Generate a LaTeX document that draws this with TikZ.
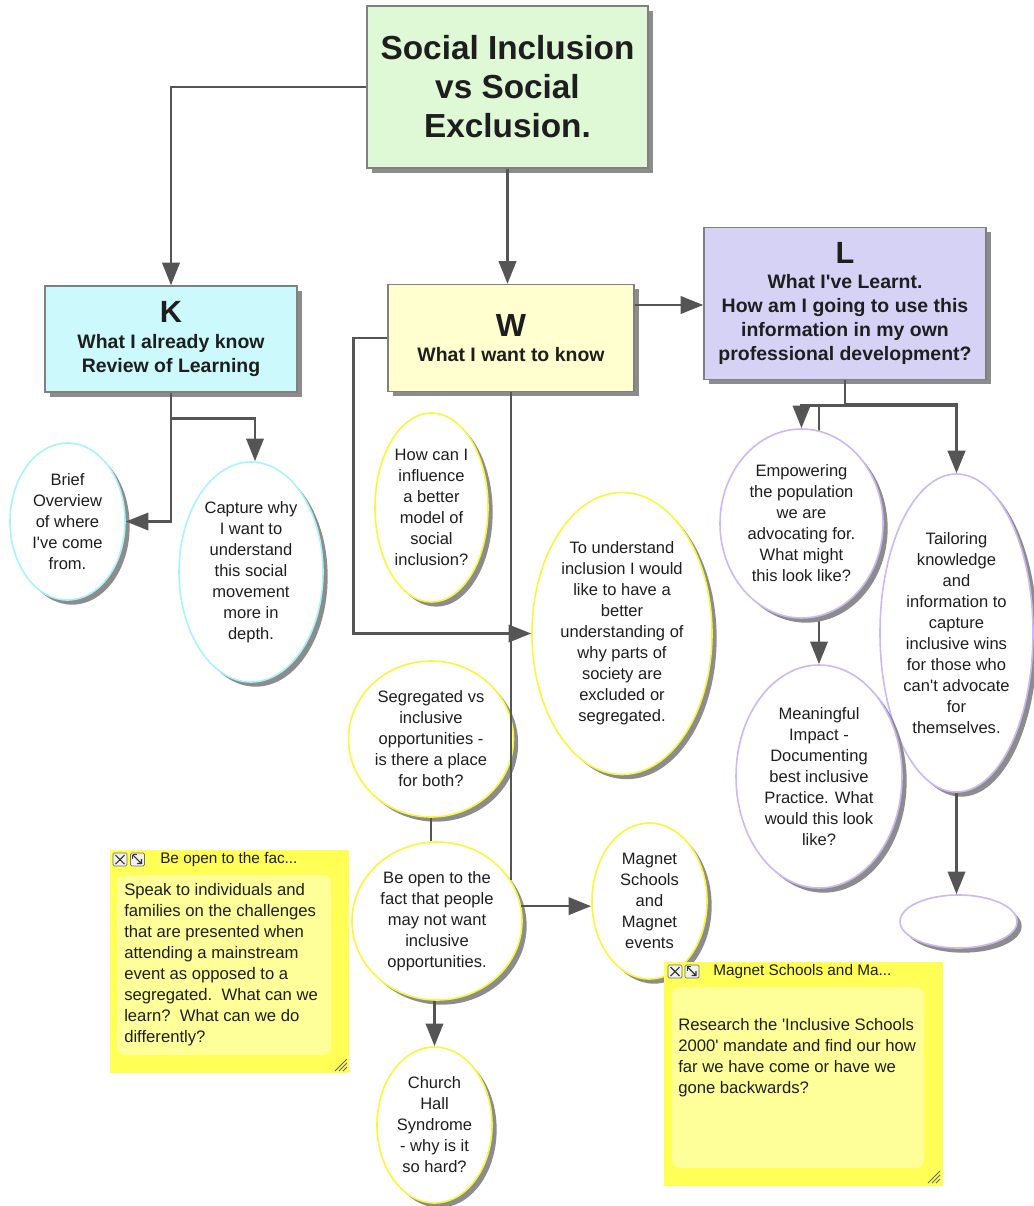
\documentclass[tikz,border=0pt]{standalone}
\usepackage{fontspec}
\setmainfont{Liberation Sans}
\usetikzlibrary{shapes.geometric,shadows,arrows.meta}

\newcommand\aposq{\textquotesingle}

\definecolor{linegray}{HTML}{555555}
\definecolor{boxedge}{HTML}{808080}
\definecolor{inkcol}{HTML}{1E1E1E}
\definecolor{greenfill}{HTML}{DFF8D6}
\definecolor{cyanfill}{HTML}{CCF9FC}
\definecolor{yellowfill}{HTML}{FFFFCF}
\definecolor{lilacfill}{HTML}{D6D2F6}
\definecolor{cyanedge}{HTML}{A8F4FC}
\definecolor{yellowedge}{HTML}{FAF63C}
\definecolor{lilacedge}{HTML}{CCB8F8}
\definecolor{noteouter}{HTML}{FFFF55}
\definecolor{noteinner}{HTML}{FFFF99}
\definecolor{shadowgray}{HTML}{8C8C8C}
\definecolor{iconedge}{HTML}{6E6E6E}
\definecolor{iconfill}{HTML}{F2F2EC}

\tikzset{
  softshadow/.style={drop shadow={shadow xshift=3.5pt, shadow yshift=-3.5pt, fill=shadowgray, opacity=1}},
  topic/.style={rectangle, draw=boxedge, line width=1pt, softshadow, align=center,
    text=inkcol, inner sep=0pt, font=\bfseries\fontsize{14.6pt}{18pt}\selectfont},
  bubble/.style={ellipse, draw=#1, line width=1.2pt, fill=white, softshadow, align=center,
    text=inkcol, inner sep=0pt, font=\fontsize{12.4pt}{15.75pt}\selectfont},
  conn/.style={draw=linegray, line width=2pt},
  arr/.style={conn, -{Triangle[length=17pt,width=13pt]}},
  noteback/.style={rectangle, fill=noteouter, inner sep=0pt},
  notepad/.style={rectangle, rounded corners=6pt, fill=noteinner, inner sep=0pt},
  notetext/.style={align=left, text=inkcol, inner sep=0pt, font=\fontsize{12.5pt}{15.75pt}\selectfont},
  notetitle/.style={text=inkcol, inner sep=0pt, font=\fontsize{11.5pt}{14pt}\selectfont},
  closeicon/.pic={
    \draw[iconedge, fill=iconfill, line width=0.6pt, rounded corners=1pt] (-7,-6.5) rectangle (7,6.5);
    \draw[black!80, line width=0.8pt] (-4.5,-4.5) -- (4.5,4.5) (-4.5,4.5) -- (4.5,-4.5);
  },
  sizeicon/.pic={
    \draw[iconedge, fill=iconfill, line width=0.6pt, rounded corners=1pt] (-7,-6.5) rectangle (7,6.5);
    \draw[black!80, line width=0.8pt] (-4.5,-4.5) -- (4,4) (4,-0.5) -- (4,4) -- (-0.5,4);
    \draw[black!80, line width=0.6pt] (-5,-5) -- (-5,-1) (-5,-5) -- (-1,-5);
  },
  grip/.pic={
    \draw[black!60, line width=0.7pt] (-4,0) -- (0,-4) (-8,0) -- (0,-8) (-12,0) -- (0,-12);
  },
}

\begin{document}
\begin{tikzpicture}[x=0.75pt, y=-0.75pt]
\useasboundingbox (0,0) rectangle (1034,1206);
\fill[white] (0,0) rectangle (1034,1206);

% ---- main topic and the K / W / L headings
\node[topic, fill=greenfill, minimum width=210.75pt, minimum height=121.5pt,
      font=\bfseries\fontsize{25pt}{29.25pt}\selectfont] (top) at (507.5,87)
      {Social Inclusion\\vs Social\\Exclusion.};
\node[topic, fill=cyanfill, minimum width=189pt, minimum height=79.5pt] (kbox) at (171,339)
      {{\fontsize{23pt}{23pt}\selectfont K}\\[2pt]What I already know\\Review of Learning};
\node[topic, fill=yellowfill, minimum width=184.5pt, minimum height=80.25pt] (wbox) at (511,338)
      {{\fontsize{24pt}{24pt}\selectfont W}\\[1pt]What I want to know};
\node[topic, fill=lilacfill, minimum width=211.5pt, minimum height=114pt] (lbox) at (845,303.5)
      {{\fontsize{23pt}{23pt}\selectfont L}\\[0.5pt]What I\aposq ve Learnt.\\How am I going to use this\\information in my own\\professional development?};

% ---- L branch ideas (the link to "Meaningful Impact" runs behind "Empowering")
\node[bubble=lilacedge, minimum width=114.75pt, minimum height=238.5pt] (tailor) at (956.5,633)
      {Tailoring\\knowledge\\and\\information to\\capture\\inclusive wins\\for those who\\can\aposq t advocate\\for\\themselves.};
\node[bubble=lilacedge, minimum width=124.5pt, minimum height=167.25pt] (meaning) at (819,776.5)
      {Meaningful\\Impact -\\Documenting\\best inclusive\\Practice. What\\would this look\\like?};
\draw[conn] (lbox.south) -- ++(0,25) coordinate (lfork);
\draw[arr] (lfork) -| (meaning.north);
\node[bubble=lilacedge, minimum width=122.25pt, minimum height=141.75pt] (empower) at (801.5,523.5)
      {Empowering\\the population\\we are\\advocating for.\\What might\\this look like?};
\node[bubble=lilacedge, minimum width=87.75pt, minimum height=39.75pt] (empty) at (958.5,921.5) {};

% ---- K branch ideas
\node[bubble=cyanedge, minimum width=86.25pt, minimum height=117.75pt] (brief) at (67.5,521.5)
      {Brief\\Overview\\of where\\I\aposq ve come\\from.};
\node[bubble=cyanedge, minimum width=108pt, minimum height=165pt] (capture) at (251,572)
      {Capture why\\I want to\\understand\\this social\\movement\\more in\\depth.};

% ---- W branch ideas
\node[bubble=yellowedge, minimum width=84.75pt, minimum height=141.75pt] (howcan) at (431.5,507.5)
      {How can I\\influence\\a better\\model of\\social\\inclusion?};
\node[bubble=yellowedge, minimum width=135pt, minimum height=211.5pt] (tounder) at (622,633.5)
      {To understand\\inclusion I would\\like to have a\\better\\understanding of\\why parts of\\society are\\excluded or\\segregated.};
\node[bubble=yellowedge, minimum width=123.75pt, minimum height=117pt] (segr) at (431,739)
      {Segregated vs\\inclusive\\opportunities -\\is there a place\\for both?};
\node[bubble=yellowedge, minimum width=127.5pt, minimum height=118.5pt] (beopen) at (437,921)
      {Be open to the\\fact that people\\may not want\\inclusive\\opportunities.};
\node[bubble=yellowedge, minimum width=86.25pt, minimum height=117pt] (church) at (434.5,1125)
      {Church\\Hall\\Syndrome\\- why is it\\so hard?};
\node[bubble=yellowedge, minimum width=86.25pt, minimum height=117pt] (magnet) at (649.5,901)
      {Magnet\\Schools\\and\\Magnet\\events};

% ---- connectors
\draw[arr] (top.west) -| (kbox.north);
\draw[arr] (top.south) -- (top.south |- wbox.north);
\coordinate (wout) at ([yshift=24.75pt]wbox.east);
\draw[arr] (wout) -- (wout -| lbox.west);

\draw[arr] (kbox.south) |- (brief.east);
\draw[arr] (kbox.south) -- ++(0,26) -| ([xshift=3pt]capture.north);

\draw[arr] (wbox.west) -- ++(-34,0) |- (tounder.west);
\draw[conn] (wbox.south) -- (wbox.south |- beopen.29);
\draw[conn] (segr.south) -- (segr.south |- beopen.north);
\draw[arr] (beopen.10) -- (beopen.10 -| magnet.west);
\draw[arr] (church.north |- beopen.south) -- (church.north);

\draw[arr] (lfork) -| (empower.north);
\draw[arr, line width=2.6pt] (lfork) -| (tailor.north);
\draw[arr] (tailor.south) -- (tailor.south |- empty.north);

% ---- sticky notes
\node[noteback, minimum width=179.25pt, minimum height=167.25pt] (note1) at (229.5,961.5) {};
\node[notepad, minimum width=160.5pt, minimum height=135pt] (note1pad) at (224,965) {};
\pic at (120,859.5) {closeicon};
\pic at (137.5,859.5) {sizeicon};
\node[notetitle, anchor=base west] (note1title) at (160,863) {Be open to the fac...};
\node[notetext, anchor=north west] (note1text) at (124,883)
      {Speak to individuals and\\families on the challenges\\that are presented when\\attending a mainstream\\event as opposed to a\\segregated.\ \ What can we\\learn?\ \ What can we do\\differently?};
\pic at (347,1071) {grip};

\node[noteback, minimum width=209.25pt, minimum height=168pt] (note2) at (803.5,1074) {};
\node[notepad, minimum width=189pt, minimum height=135.75pt] (note2pad) at (798,1077.5) {};
\pic at (675,971.5) {closeicon};
\pic at (692,971.5) {sizeicon};
\node[notetitle, anchor=base west] (note2title) at (713,975) {Magnet Schools and Ma...};
\node[notetext, anchor=north west] (note2text) at (678,1018)
      {Research the \aposq Inclusive Schools\\2000\aposq\ mandate and find our how\\far we have come or have we\\gone backwards?};
\pic at (940,1183) {grip};
\end{tikzpicture}
\end{document}
